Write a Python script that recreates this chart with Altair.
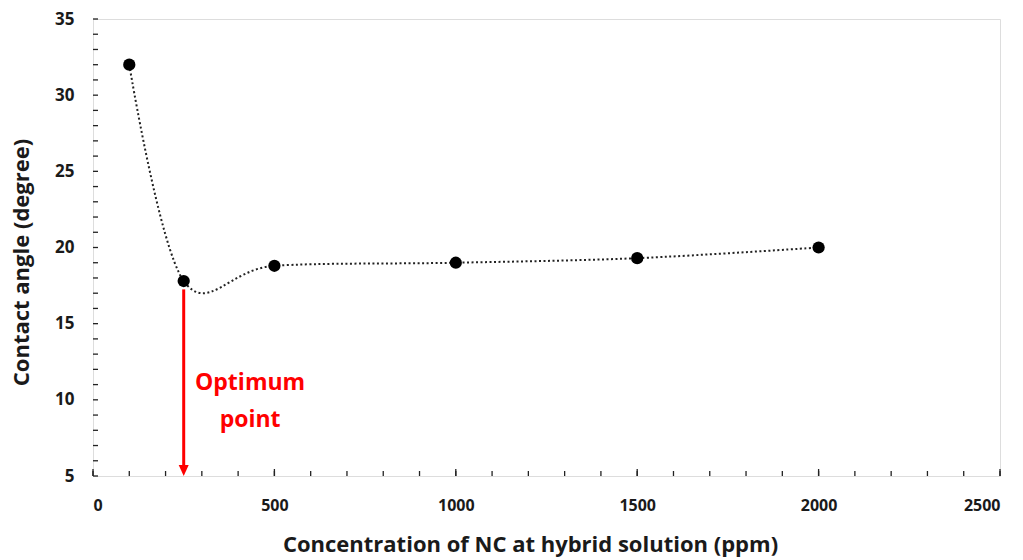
import altair as alt
import pandas as pd

# Measured contact angle vs. NC concentration
concentration = [100, 250, 500, 1000, 1500, 2000]
contact_angle = [32.0, 17.8, 18.8, 19.0, 19.3, 20.0]

# Axis tick positions (inward ticks drawn as rules)
x_minor = list(range(0, 2501, 100))
x_major = list(range(0, 2501, 500))
y_minor = list(range(5, 36, 1))
y_major = list(range(5, 36, 5))

# Optimum point annotation
opt_x = 250
opt_top = 17.25
opt_bottom = 5.0
label_lines = ["Optimum", "point"]
label_y = [11.1, 8.7]
label_x = 433

W, H = 907, 457
FONT = "Open Sans"

df = pd.DataFrame({"c": concentration, "a": contact_angle})

xs = alt.Scale(domain=[0, 2500], nice=False)
ys = alt.Scale(domain=[5, 35], nice=False)

x_axis = alt.Axis(values=x_major, format="d", labelFont=FONT, labelFontWeight="bold",
                  labelFontSize=16, labelColor="#1a1a1a", labelPadding=21,
                  title="Concentration of NC at hybrid solution (ppm)", titleFont=FONT,
                  titleFontWeight="bold", titleFontSize=22, titleColor="#1a1a1a",
                  titlePadding=21, titleX=437, ticks=False, domain=False, grid=False)
y_axis = alt.Axis(values=y_major, labelFont=FONT, labelFontWeight="bold",
                  labelFontSize=17, labelColor="#1a1a1a", labelPadding=19,
                  title="Contact angle (degree)", titleFont=FONT, titleFontWeight="bold",
                  titleFontSize=22, titleColor="#1a1a1a", titlePadding=21, titleY=243,
                  ticks=False, domain=False, grid=False)

curve = alt.Chart(df).mark_line(
    interpolate="cardinal", color="#222", strokeWidth=2, strokeDash=[2, 2.5]
).encode(
    x=alt.X("c:Q", scale=xs, axis=x_axis),
    y=alt.Y("a:Q", scale=ys, axis=y_axis),
)

points = alt.Chart(df).mark_circle(size=150, color="black", opacity=1).encode(
    x=alt.X("c:Q", scale=xs), y=alt.Y("a:Q", scale=ys)
)

# Inward tick marks
xt_minor = alt.Chart(pd.DataFrame({"t": x_minor})).mark_rule(color="#222", strokeWidth=1.3).encode(
    x=alt.X("t:Q", scale=xs), y=alt.value(H), y2=alt.value(H - 5)
)
xt_major = alt.Chart(pd.DataFrame({"t": x_major})).mark_rule(color="#222", strokeWidth=1.3).encode(
    x=alt.X("t:Q", scale=xs), y=alt.value(H), y2=alt.value(H - 7)
)
yt_minor = alt.Chart(pd.DataFrame({"t": y_minor})).mark_rule(color="#222", strokeWidth=1.3).encode(
    y=alt.Y("t:Q", scale=ys), x=alt.value(0), x2=alt.value(5)
)

# Red arrow marking the optimum
arrow_df = pd.DataFrame({"x": [opt_x], "y1": [opt_top], "y2": [opt_bottom + 0.6]})
arrow_line = alt.Chart(arrow_df).mark_rule(color="#ff0000", strokeWidth=3).encode(
    x=alt.X("x:Q", scale=xs), y=alt.Y("y1:Q", scale=ys), y2="y2:Q"
)
head = alt.Chart(pd.DataFrame({"x": [opt_x], "y": [opt_bottom]})).mark_point(
    shape="M-1,-2.2L1,-2.2L0,0Z", size=100, filled=True, color="#ff0000", opacity=1
).encode(x=alt.X("x:Q", scale=xs), y=alt.Y("y:Q", scale=ys))

label = alt.Chart(pd.DataFrame({"t": label_lines, "y": label_y, "x": [label_x] * 2})).mark_text(
    font=FONT, fontWeight="bold", fontSize=23, color="#ff0000", align="center", baseline="middle"
).encode(x=alt.X("x:Q", scale=xs), y=alt.Y("y:Q", scale=ys), text="t:N")

chart = alt.layer(
    xt_minor, xt_major, yt_minor, curve, points, arrow_line, head, label
).properties(
    width=W, height=H,
    autosize=alt.AutoSizeParams(type="none"),
    padding={"left": 93, "top": 19, "right": 23, "bottom": 84},
).configure_view(stroke="#222", strokeWidth=1.5).configure(background="white")

chart.save("out.html", embed_options={"renderer": "svg", "actions": False})
